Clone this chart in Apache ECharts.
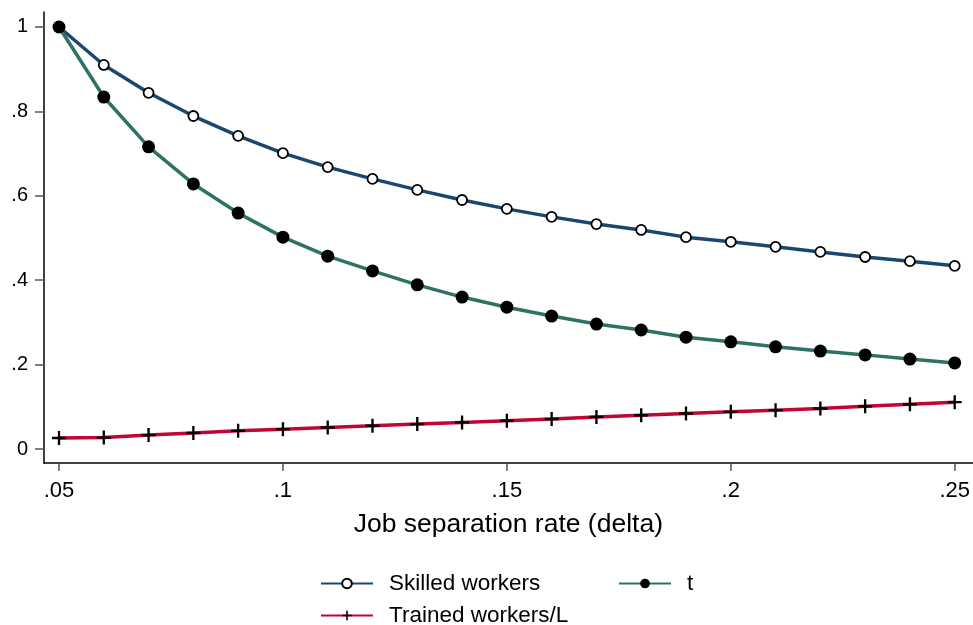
<!DOCTYPE html>
<html>
<head>
<meta charset="utf-8">
<script src="https://cdn.jsdelivr.net/npm/echarts@6/dist/echarts.min.js"></script>
<style>
  html, body { margin: 0; padding: 0; background: #fff; }
  #chart { width: 973px; height: 625px; }
</style>
</head>
<body>
<div id="chart"></div>
<script>
// separation rates on the x axis
const delta = [0.05, 0.06, 0.07, 0.08, 0.09, 0.10, 0.11, 0.12, 0.13, 0.14, 0.15,
               0.16, 0.17, 0.18, 0.19, 0.20, 0.21, 0.22, 0.23, 0.24, 0.25];

// series
const skilled = [1.000, 0.910, 0.844, 0.789, 0.742, 0.701, 0.668, 0.640, 0.614, 0.590, 0.569,
                 0.550, 0.533, 0.519, 0.502, 0.491, 0.479, 0.467, 0.455, 0.445, 0.434];
const tShare  = [1.000, 0.834, 0.716, 0.628, 0.559, 0.502, 0.457, 0.422, 0.389, 0.360, 0.336,
                 0.315, 0.296, 0.282, 0.265, 0.254, 0.242, 0.232, 0.223, 0.213, 0.204];
const trained = [0.026, 0.027, 0.033, 0.038, 0.043, 0.047, 0.051, 0.055, 0.059, 0.063, 0.067,
                 0.071, 0.076, 0.080, 0.084, 0.088, 0.092, 0.096, 0.101, 0.106, 0.111];

// tick labels
const xTicks = [0.05, 0.10, 0.15, 0.20, 0.25];
const yTicks = [0, 0.2, 0.4, 0.6, 0.8, 1];

const FONT = "Liberation Sans";
const pairs = arr => delta.map((d, i) => [d, arr[i]]);
const stripZero = v => {
    let s = String(+v.toFixed(2));
    return s.startsWith("0.") ? s.slice(1) : s;
};

const plusPath = "path://M5,0H7V5H12V7H7V12H5V7H0V5H5Z";

const chart = echarts.init(document.getElementById("chart"), null, { renderer: "canvas" });

const legendBase = {
    orient: "horizontal",
    itemWidth: 52,
    itemHeight: 12,
    textStyle: { fontFamily: FONT, fontSize: 22.5, color: "#000", padding: [0, 0, 0, 11] },
    selectedMode: false
};

chart.setOption({
    animation: false,
    backgroundColor: "#fff",
    grid: { left: 44, right: 0, top: 12, bottom: 162, containLabel: false },
    xAxis: {
        type: "value",
        min: 0.04665,
        max: 0.254,
        name: "Job separation rate (delta)",
        nameLocation: "middle",
        nameGap: 62,
        nameMoveOverlap: false,
        nameTextStyle: { fontFamily: FONT, fontSize: 26.5, color: "#000", verticalAlign: "middle" },
        axisLine: { show: true, onZero: false, lineStyle: { color: "#000", width: 1.5 } },
        axisTick: { show: true, customValues: xTicks, length: 8, lineStyle: { color: "#555", width: 1.5 } },
        axisLabel: { customValues: xTicks, formatter: stripZero, fontFamily: FONT, fontSize: 22, color: "#000", margin: 17 },
        splitLine: { show: false }
    },
    yAxis: {
        type: "value",
        min: -0.0332,
        max: 1.0355,
        axisLine: { show: true, onZero: false, lineStyle: { color: "#000", width: 1.5 } },
        axisTick: { show: true, customValues: yTicks, length: 9, lineStyle: { color: "#555", width: 1.5 } },
        axisLabel: { customValues: yTicks, formatter: stripZero, fontFamily: FONT, fontSize: 20, color: "#000", margin: 16 },
        splitLine: { show: false }
    },
    legend: [
        Object.assign({}, legendBase, { left: 315, top: 567, data: ["Skilled workers"] }),
        Object.assign({}, legendBase, { left: 613, top: 567, data: ["t"] }),
        Object.assign({}, legendBase, { left: 315, top: 599, data: ["Trained workers/L"] })
    ],
    series: [
        {
            name: "Skilled workers",
            type: "line",
            data: pairs(skilled),
            symbol: "circle",
            symbolSize: 10,
            showAllSymbol: true,
            lineStyle: { color: "#1a476f", width: 3.5 },
            itemStyle: { color: "#fff", borderColor: "#000", borderWidth: 1.8 },
            z: 3
        },
        {
            name: "t",
            type: "line",
            data: pairs(tShare),
            symbol: "circle",
            symbolSize: 13,
            showAllSymbol: true,
            lineStyle: { color: "#2e7266", width: 3.5 },
            itemStyle: { color: "#000", borderWidth: 0 },
            z: 4
        },
        {
            name: "Trained workers/L",
            type: "line",
            data: pairs(trained),
            symbol: plusPath,
            symbolSize: 14,
            showAllSymbol: true,
            lineStyle: { color: "#c10534", width: 3.5 },
            itemStyle: { color: "#000", borderWidth: 0 },
            z: 2
        }
    ]
});
</script>
</body>
</html>
